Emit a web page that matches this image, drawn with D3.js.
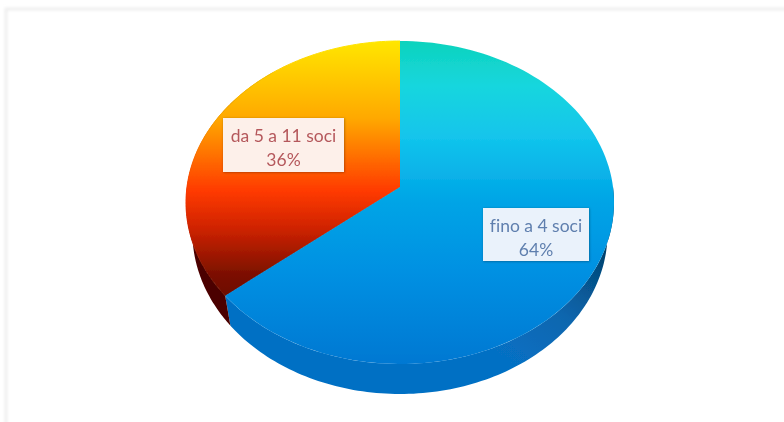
<!DOCTYPE html>
<html><head><meta charset="utf-8">
<script src="https://cdnjs.cloudflare.com/ajax/libs/d3/7.8.5/d3.min.js"></script>
<style>html,body{margin:0;padding:0;background:#fff;overflow:hidden}svg{display:block}text{font-family:Lato,"Open Sans",sans-serif;font-variant-ligatures:none}</style>
</head><body>
<script>
const categories = ["fino a 4 soci", "da 5 a 11 soci"];
const values = [64, 36];
const percentLabels = ["64%", "36%"];
const labelColors = ["#5f7fae", "#b5585c"];
const blueStops = [[0,"#0dd3bd"],[0.14,"#17d6de"],[0.3,"#12c4ec"],[0.5,"#00a4e6"],[0.72,"#0690e2"],[1,"#0078d2"]];
const fireStops = [[0,"#ffe600"],[0.3,"#ffa800"],[0.58,"#ff3a00"],[0.72,"#d02300"],[0.9,"#7c1000"],[1,"#6a0c00"]];

const W = 784, H = 422, cx = 400, cy = 202.5, rx = 214, ry = 161.5, depth = 30, apexY = 187, wallScale = 0.97;
const k = (apexY - cy) / ry;
const svg = d3.select("body").append("svg").attr("width", W).attr("height", H);
const defs = svg.append("defs");

function grad(id, stops, y1, y2) {
  const g = defs.append("linearGradient").attr("id", id).attr("gradientUnits", "userSpaceOnUse")
    .attr("x1", 0).attr("x2", 0).attr("y1", y1).attr("y2", y2);
  stops.forEach(s => g.append("stop").attr("offset", s[0]).attr("stop-color", s[1]));
}
grad("topBlue", blueStops, cy - ry, cy + ry);
grad("topFire", fireStops, cy - ry, 300);
const sb = defs.append("linearGradient").attr("id", "sideBlue").attr("gradientUnits", "userSpaceOnUse")
  .attr("x1", 612).attr("y1", 245).attr("x2", 520).attr("y2", 370);
[[0,"#003a60"],[0.2,"#054f85"],[0.55,"#0a66ae"],[1,"#0670c4"]].forEach(s => sb.append("stop").attr("offset", s[0]).attr("stop-color", s[1]));
defs.append("filter").attr("id", "soft").append("feGaussianBlur").attr("stdDeviation", 0.7);
defs.append("filter").attr("id", "edge").append("feGaussianBlur").attr("stdDeviation", 1.8);
const sh = defs.append("filter").attr("id", "boxShadow").attr("x", "-20%").attr("y", "-20%").attr("width", "140%").attr("height", "140%");
sh.append("feDropShadow").attr("dx", 0.5).attr("dy", 0.5).attr("stdDeviation", 1.2).attr("flood-color", "#000").attr("flood-opacity", 0.35);

// faint frame of the pasted picture
svg.append("path").attr("d", d3.line()([[6, H + 5], [6, 9], [W + 5, 9]]))
  .attr("fill", "none").attr("stroke", "#ebebeb").attr("stroke-width", 2.5).attr("filter", "url(#edge)");

// perspective projection of the unit disc onto the ellipse
function project(a, r) {
  const u = r * Math.sin(a), v = -r * Math.cos(a), d = 1 + k * v;
  return [cx + rx * u * Math.sqrt(1 - k * k) / d, cy + ry * (v + k) / d];
}
const pie = d3.pie().sort(null).value(d => d);
const arcs = pie(values);
const line = d3.line();
const rim = (a0, a1) => d3.range(0, 121).map(i => project(a0 + (a1 - a0) * i / 120, 1));
const facePath = s => line([project(0, 0), ...rim(s.startAngle, s.endAngle)]) + "Z";
const sidePath = (a0, a1) => {
  const r = rim(a0, a1);
  const lower = r.slice().reverse().map(p => [cx + (p[0] - cx) * wallScale, p[1] + depth]);
  return line([...r, ...lower]) + "Z";
};

const g = svg.append("g").attr("filter", "url(#soft)");
// visible side walls: only the front of the rim
const quarter = Math.PI / 2;
g.append("path").attr("d", sidePath(arcs[0].startAngle + quarter, arcs[0].endAngle)).attr("fill", "url(#sideBlue)");
g.append("path").attr("d", sidePath(arcs[1].startAngle, arcs[1].endAngle - Math.PI * 0.22)).attr("fill", "#4c0600");

// orange slice first with a thin same-colour stroke, so that no light seam shows between the slices
g.selectAll("path.face").data(arcs.slice().reverse()).join("path").attr("class", "face")
  .attr("d", facePath)
  .attr("fill", d => d.index ? "url(#topFire)" : "url(#topBlue)")
  .attr("stroke", d => d.index ? "url(#topFire)" : "none")
  .attr("stroke-width", 1);

// labels
const boxes = [{x0: 483, x1: 589, y0: 208, y1: 261}, {x0: 223, x1: 344, y0: 118, y1: 172}];
const lab = svg.append("g").attr("filter", "url(#soft)");
categories.forEach((c, i) => {
  const b = boxes[i], mx = (b.x0 + b.x1) / 2;
  lab.append("rect").attr("x", b.x0).attr("y", b.y0).attr("width", b.x1 - b.x0).attr("height", b.y1 - b.y0)
    .attr("fill", i ? "#fdf0ea" : "#eaf2fb").attr("filter", "url(#boxShadow)");
  lab.append("text").attr("x", mx).attr("y", b.y0 + 23.5).attr("text-anchor", "middle").attr("font-size", 17.5).attr("fill", labelColors[i]).text(c);
  lab.append("text").attr("x", mx).attr("y", b.y0 + 47.5).attr("text-anchor", "middle").attr("font-size", 17.5).attr("fill", labelColors[i]).text(percentLabels[i]);
});
</script>
</body></html>
